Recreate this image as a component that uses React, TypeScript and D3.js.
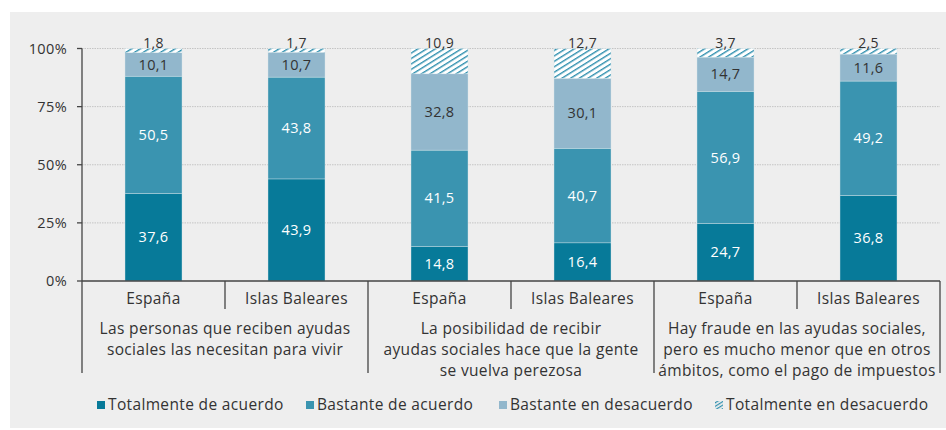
import React from 'react';
import * as d3 from 'd3';

// data
const groups = [
  ['Las personas que reciben ayudas', 'sociales las necesitan para vivir'],
  ['La posibilidad de recibir', 'ayudas sociales hace que la gente', 'se vuelva perezosa'],
  ['Hay fraude en las ayudas sociales,', 'pero es mucho menor que en otros', 'ámbitos, como el pago de impuestos'],
];
const regions = ['España', 'Islas Baleares'];
const seriesNames = ['Totalmente de acuerdo', 'Bastante de acuerdo', 'Bastante en desacuerdo', 'Totalmente en desacuerdo'];
const totalAcuerdo = [37.6, 43.9, 14.8, 16.4, 24.7, 36.8];
const bastanteAcuerdo = [50.5, 43.8, 41.5, 40.7, 56.9, 49.2];
const bastanteDesacuerdo = [10.1, 10.7, 32.8, 30.1, 14.7, 11.6];
const totalDesacuerdo = [1.8, 1.7, 10.9, 12.7, 3.7, 2.5];
const yTicks = [0, 25, 50, 75, 100];

const colors = ['#077a99', '#3a94b0', '#92b7cc', 'url(#hatch)'];
const font = "'Open Sans', sans-serif";

export default function App() {
  const W = 946, H = 430;
  const left = 82, right = 940, top = 48.5, bottom = 281;

  const bars = totalAcuerdo.map((_, i) => ({
    key: i,
    vals: [totalAcuerdo[i], bastanteAcuerdo[i], bastanteDesacuerdo[i], totalDesacuerdo[i]],
  }));

  const x = d3.scaleBand<number>().domain(bars.map(b => b.key)).range([left, right]).paddingInner(0).paddingOuter(0);
  const y = d3.scaleLinear().domain([0, 100]).range([bottom, top]);
  const barW = 57;

  const stackData = bars.map(b => {
    const o: any = { key: b.key };
    b.vals.forEach((v, j) => (o['s' + j] = v));
    return o;
  });
  const stacked = d3.stack<any>().keys(['s0', 's1', 's2', 's3'])(stackData);

  const fmt = (v: number) => v.toFixed(1).replace('.', ',');
  const groupW = x.bandwidth() * 2;
  const ls = 0.35;

  return (
    <svg width={W} height={H} style={{ position: 'absolute', left: 0, top: 0, fontFamily: font }}>
      <defs>
        <pattern id="hatch" patternUnits="userSpaceOnUse" width="4.6" height="6" patternTransform="rotate(58)">
          <rect width="4.6" height="6" fill="#ffffff" />
          <line x1="0.7" y1="0" x2="0.7" y2="6" stroke="#2f8fae" strokeWidth="1.4" />
        </pattern>
        <pattern id="hatchSmall" patternUnits="userSpaceOnUse" width="3" height="3" patternTransform="rotate(58)">
          <rect width="3" height="3" fill="#eeeeee" />
          <line x1="0.6" y1="0" x2="0.6" y2="3" stroke="#2f8fae" strokeWidth="1.2" />
        </pattern>
      </defs>
      <rect x={0} y={0} width={W} height={H} fill="#ffffff" />
      <rect x={10} y={12} width={W - 10} height={416} fill="#eeeeee" />

      {/* gridlines */}
      {yTicks.filter(t => t > 0).map(t => (
        <line key={t} x1={left} x2={right} y1={y(t)} y2={y(t)} stroke="#c4c4c4" strokeWidth={1} strokeDasharray="1.5,1" />
      ))}

      {/* bars */}
      {stacked.map((layer, j) => (
        <g key={j}>
          {layer.map((d, i) => {
            const cx = x(i)! + x.bandwidth() / 2;
            return (
              <rect key={i} x={cx - barW / 2} width={barW} y={y(Math.min(d[1], 100))} height={y(d[0]) - y(Math.min(d[1], 100))}
                fill={colors[j]} stroke="#d6e6ec" strokeWidth={0.4} />
            );
          })}
        </g>
      ))}

      {/* value labels */}
      {stacked.map((layer, j) => (
        <g key={'l' + j}>
          {layer.map((d, i) => {
            const cx = x(i)! + x.bandwidth() / 2;
            const v = d[1] - d[0];
            if (j === 3) {
              return (
                <text key={i} x={cx} y={y(100) - 1} textAnchor="middle" fontSize={14} letterSpacing={ls} fill="#333">{fmt(v)}</text>
              );
            }
            return (
              <text key={i} x={cx} y={(y(d[0]) + y(Math.min(d[1], 100))) / 2} dy="0.35em" textAnchor="middle" fontSize={14.5}
                letterSpacing={ls} fill={j < 2 ? '#ffffff' : '#333'}>{fmt(v)}</text>
            );
          })}
        </g>
      ))}

      {/* y axis */}
      <line x1={left} x2={left} y1={top} y2={bottom} stroke="#444" strokeWidth={1.3} />
      {yTicks.map(t => (
        <g key={t}>
          <line x1={left - 5} x2={left} y1={y(t)} y2={y(t)} stroke="#444" strokeWidth={1.3} />
          <text x={left - 15} y={y(t)} dy="0.35em" textAnchor="end" fontSize={14.5} letterSpacing={ls} fill="#333">{t}%</text>
        </g>
      ))}

      {/* x axis */}
      <line x1={left} x2={right} y1={bottom} y2={bottom} stroke="#444" strokeWidth={1.3} />
      {bars.map((b, i) => (
        <g key={i}>
          <text x={x(i)! + x.bandwidth() / 2} y={299} dy="0.35em" textAnchor="middle" fontSize={15.5} letterSpacing={ls} fill="#333">{regions[i % 2]}</text>
          {i % 2 === 1 && (
            <line x1={x(i)!} x2={x(i)!} y1={bottom} y2={309} stroke="#444" strokeWidth={1.3} />
          )}
        </g>
      ))}
      {d3.range(groups.length + 1).map(g => (
        <line key={g} x1={left + g * groupW} x2={left + g * groupW} y1={bottom} y2={373} stroke="#444" strokeWidth={1.3} />
      ))}
      {groups.map((lines, g) => (
        <text key={g} textAnchor="middle" fontSize={15.5} letterSpacing={ls} fill="#333">
          {lines.map((l, k) => (
            <tspan key={k} x={left + g * groupW + groupW / 2} y={329 + k * 21} dy="0.35em">{l}</tspan>
          ))}
        </text>
      ))}

      {/* legend */}
      {seriesNames.map((n, j) => {
        const lx = [97, 306, 499, 715][j];
        return (
          <g key={n}>
            <rect x={lx} y={401} width={8} height={8} fill={j === 3 ? 'url(#hatchSmall)' : colors[j]} />
            <text x={lx + 11} y={405} dy="0.35em" fontSize={15.5} letterSpacing={ls} fill="#333">{n}</text>
          </g>
        );
      })}
    </svg>
  );
}
